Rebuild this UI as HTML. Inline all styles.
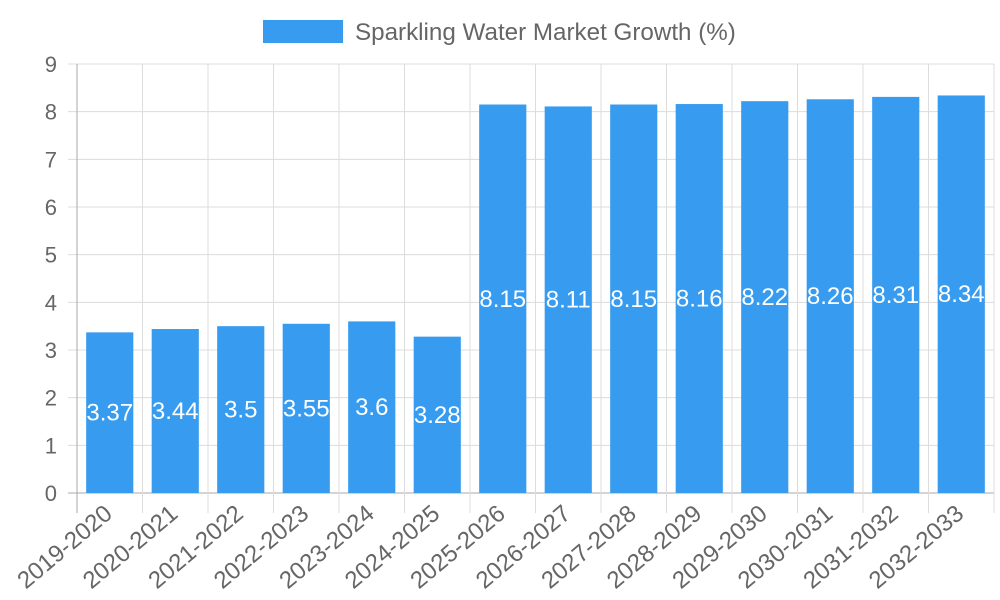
<!DOCTYPE html>
<html><head><meta charset="utf-8"><style>
html,body{margin:0;padding:0;background:#fff;}
svg{display:block;font-family:"Liberation Sans",sans-serif;}
</style></head><body>
<svg id="chart" width="1000" height="600" viewBox="0 0 1000 600">
<g>
<rect x="263" y="20" width="80" height="23" fill="#379bf0"/>
<text x="355" y="40" font-size="24.2" fill="#666">Sparkling Water Market Growth (%)</text>
</g>
<g id="grid"></g><g id="bars"></g><g id="labels"></g>
</svg>
<script>
const categories=["2019-2020","2020-2021","2021-2022","2022-2023","2023-2024","2024-2025","2025-2026","2026-2027","2027-2028","2028-2029","2029-2030","2030-2031","2031-2032","2032-2033"];
const values=[3.37,3.44,3.5,3.55,3.6,3.28,8.15,8.11,8.15,8.16,8.22,8.26,8.31,8.34];
const yTicks=[0,1,2,3,4,5,6,7,8,9];
const NS="http://www.w3.org/2000/svg";
const L=77,R=994,T=64,B=493,yMax=9;
const cw=(R-L)/categories.length;
const y=v=>B-(v/yMax)*(B-T);
const x=i=>L+cw*i;
function mk(tag,at,parent,txt){const e=document.createElementNS(NS,tag);for(const k in at)e.setAttribute(k,at[k]);if(txt!==undefined)e.textContent=txt;document.getElementById(parent).appendChild(e);return e;}
yTicks.forEach(t=>{
 const g=mk('line',{x1:68,x2:R,y1:y(t),y2:y(t),stroke:t===0?'#aaa':'#dcdcdc','stroke-width':1},'grid');
 
 
 const tx=mk('text',{x:57,y:y(t)+8,'text-anchor':'end','font-size':22,fill:'#666'},'grid',String(t));
 
 
});
for(let i=0;i<=categories.length;i++){
 const g=mk('line',{x1:x(i),x2:x(i),y1:T,y2:B+20,stroke:i===0?'#aaa':'#dcdcdc','stroke-width':1},'grid');
 
 
}
categories.forEach((c,i)=>{
 const cx=x(i)+cw/2,bw=cw*0.72;
 const r=mk('rect',{x:cx-bw/2,y:y(values[i]),width:bw,height:B-y(values[i]),fill:'#379bf0'},'bars');
 
 
 const v=mk('text',{x:cx,y:(y(values[i])+B)/2+8,'text-anchor':'middle','font-size':24,fill:'#fff'},'labels',String(values[i]));
 
 
 const t=mk('text',{x:0,y:0,'text-anchor':'end','font-size':24,fill:'#666',transform:`translate(${cx+4},${B+23}) rotate(-40)`},'labels',c);
 
 
});
</script>
</body></html>
